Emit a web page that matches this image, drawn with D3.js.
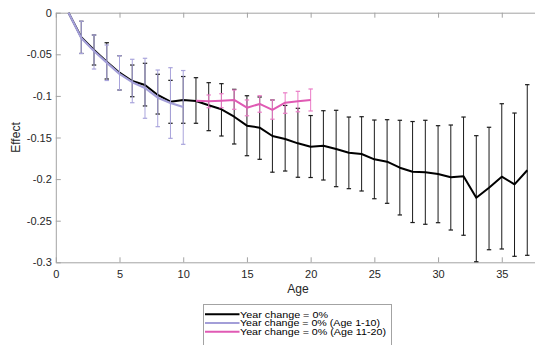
<!DOCTYPE html>
<html>
<head>
<meta charset="utf-8">
<script src="https://cdn.jsdelivr.net/npm/d3@7"></script>
<style>
  html, body { margin: 0; padding: 0; background: #fff; }
  svg { display: block; font-family: "Liberation Sans", Arial, Helvetica, sans-serif; }
</style>
</head>
<body>
<svg id="chart" width="535" height="345"></svg>
<script>
// Effect by age, all ages (1-37)
const baseAges = [1,2,3,4,5,6,7,8,9,10,11,12,13,14,15,16,17,18,19,20,21,22,23,24,25,26,27,28,29,30,31,32,33,34,35,36,37];
const baseEffect = [0,-0.0296,-0.0448,-0.0589,-0.0721,-0.0821,-0.0869,-0.0989,-0.1070,-0.1049,
  -0.1061,-0.1113,-0.1161,-0.1250,-0.1358,-0.1382,-0.1482,-0.1518,-0.1570,-0.1611,
  -0.1599,-0.1638,-0.1683,-0.1698,-0.1762,-0.1791,-0.1863,-0.1911,-0.1918,-0.1939,
  -0.1978,-0.1966,-0.2224,-0.2103,-0.1971,-0.2063,-0.1894];
const baseUpper = [null,-0.0103,-0.0268,-0.0361,-0.0517,-0.0629,-0.0608,-0.0740,-0.0813,-0.0767,
  -0.0781,-0.0841,-0.0853,-0.0921,-0.0998,-0.1013,-0.1049,-0.1115,-0.1149,-0.1236,
  -0.1178,-0.1173,-0.1254,-0.1250,-0.1290,-0.1286,-0.1293,-0.1308,-0.1293,-0.1358,
  -0.1350,-0.1254,-0.1478,-0.1377,-0.1094,-0.1206,-0.0865];
const baseLower = [null,-0.0490,-0.0629,-0.0797,-0.0929,-0.1010,-0.1121,-0.1218,-0.1329,-0.1329,
  -0.1329,-0.1418,-0.1482,-0.1578,-0.1719,-0.1762,-0.1917,-0.1903,-0.1978,-0.1981,
  -0.2011,-0.2091,-0.2115,-0.2143,-0.2236,-0.2291,-0.2431,-0.2522,-0.2543,-0.2524,
  -0.2612,-0.2675,-0.2993,-0.2849,-0.2840,-0.2928,-0.2916];

// Ages 1-10
const youngAges = [1,2,3,4,5,6,7,8,9,10];
const youngEffect = [0,-0.0305,-0.0460,-0.0600,-0.0735,-0.0835,-0.0905,-0.1022,-0.1085,-0.1133];
const youngUpper = [null,-0.0103,-0.0268,-0.0388,-0.0517,-0.0560,-0.0548,-0.0689,-0.0661,-0.0695];
const youngLower = [null,-0.0490,-0.0677,-0.0815,-0.0929,-0.1082,-0.1269,-0.1370,-0.1510,-0.1582];

// Ages 11-20
const olderAges = [11,12,13,14,15,16,17,18,19,20];
const olderEffect = [-0.1058,-0.1065,-0.1058,-0.1049,-0.1142,-0.1097,-0.1169,-0.1082,-0.1065,-0.1049];
const olderUpper = [null,-0.0989,-0.0974,-0.0929,-0.1049,-0.0998,-0.1049,-0.0963,-0.0945,-0.0917];
const olderLower = [null,-0.1142,-0.1142,-0.1161,-0.1239,-0.1196,-0.1280,-0.1209,-0.1191,-0.1181];

const xTicks = [0,5,10,15,20,25,30,35];
const yTicks = [0,-0.05,-0.1,-0.15,-0.2,-0.25,-0.3];
const yTickLabels = ["0","-0.05","-0.1","-0.15","-0.2","-0.25","-0.3"];
const legendLabels = ["Year change = 0%", "Year change = 0% (Age 1-10)", "Year change = 0% (Age 11-20)"];

const colors = { base: "#000000", young: "#a39ed8", older: "#e05ab4" };
const barColors = { base: "#1a1a1a", young: "#a9a4dc", older: "#ea7cc6" };

const svg = d3.select("#chart");
const plotLeft = 55.8, plotRight = 540, plotTop = 12.7, plotBottom = 262.3;
const x = d3.scaleLinear().domain([0, 38]).range([plotLeft, plotRight]);
const y = d3.scaleLinear().domain([-0.3, 0]).range([plotBottom, plotTop]);

const axisColor = "#a3a3a3";
const textColor = "#262626";

// Axes (box with inward ticks)
const gx = svg.append("g").attr("transform", `translate(0,${plotBottom})`)
  .call(d3.axisBottom(x).tickValues(xTicks).tickSizeInner(-5).tickSizeOuter(0).tickPadding(8).tickFormat(d3.format("d")));
const gxTop = svg.append("g").attr("transform", `translate(0,${plotTop})`)
  .call(d3.axisTop(x).tickValues(xTicks).tickSizeInner(-5).tickSizeOuter(0).tickFormat(""));
const gy = svg.append("g").attr("transform", `translate(${plotLeft},0)`)
  .call(d3.axisLeft(y).tickValues(yTicks).tickSizeInner(-5).tickSizeOuter(0).tickPadding(4)
    .tickFormat((d, i) => yTickLabels[i]));
const gyRight = svg.append("g").attr("transform", `translate(${plotRight},0)`)
  .call(d3.axisRight(y).tickValues(yTicks).tickSizeInner(-5).tickSizeOuter(0).tickFormat(""));

[gx, gxTop, gy, gyRight].forEach(g => {
  g.select(".domain").attr("stroke", axisColor);
  g.selectAll(".tick line").attr("stroke", axisColor);
  g.selectAll(".tick text").attr("fill", textColor).attr("font-size", 11)
    .attr("font-family", "'Liberation Sans', Arial, sans-serif");
});

// Axis titles
svg.append("text").attr("x", (plotLeft + plotRight) / 2).attr("y", 293)
  .attr("text-anchor", "middle").attr("font-size", 12.1).attr("fill", textColor).text("Age");
svg.append("text").attr("transform", `translate(19.5,${(plotTop + plotBottom) / 2}) rotate(-90)`)
  .attr("text-anchor", "middle").attr("font-size", 12.1).attr("fill", textColor).text("Effect");

// Series with error bars
const plotArea = svg.append("g");
function drawSeries(ages, effect, upper, lower, lineColor, barColor, lineWidth) {
  const g = plotArea.append("g");
  const rows = ages.map((a, i) => ({ a, v: effect[i], hi: upper[i], lo: lower[i] }));
  const bars = rows.filter(d => d.hi !== null && d.lo !== null);
  const capW = 2.2;
  g.selectAll("line.bar").data(bars).join("line")
    .attr("x1", d => x(d.a)).attr("x2", d => x(d.a))
    .attr("y1", d => y(d.hi)).attr("y2", d => y(d.lo))
    .attr("stroke", barColor).attr("stroke-width", 1);
  g.selectAll("line.capHi").data(bars).join("line")
    .attr("x1", d => x(d.a) - capW).attr("x2", d => x(d.a) + capW)
    .attr("y1", d => y(d.hi)).attr("y2", d => y(d.hi))
    .attr("stroke", barColor).attr("stroke-width", 1.2);
  g.selectAll("line.capLo").data(bars).join("line")
    .attr("x1", d => x(d.a) - capW).attr("x2", d => x(d.a) + capW)
    .attr("y1", d => y(d.lo)).attr("y2", d => y(d.lo))
    .attr("stroke", barColor).attr("stroke-width", 1.2);
  g.append("path").datum(rows)
    .attr("fill", "none").attr("stroke", lineColor).attr("stroke-width", lineWidth)
    .attr("stroke-linejoin", "round")
    .attr("d", d3.line().x(d => x(d.a)).y(d => y(d.v)));
}

drawSeries(baseAges, baseEffect, baseUpper, baseLower, colors.base, barColors.base, 2);
drawSeries(youngAges, youngEffect, youngUpper, youngLower, colors.young, barColors.young, 2.2);
drawSeries(olderAges, olderEffect, olderUpper, olderLower, colors.older, barColors.older, 2);

// Legend
const legend = svg.append("g");
legend.append("rect").attr("x", 203.5).attr("y", 304.5).attr("width", 188).attr("height", 50)
  .attr("fill", "#fff").attr("stroke", axisColor).attr("stroke-width", 1);
const legendColors = [colors.base, colors.young, colors.older];
const legendTextWidths = [88, 140, 146];
legendLabels.forEach((label, i) => {
  const ly = 314.3 + i * 8.7;
  legend.append("line").attr("x1", 205).attr("x2", 239.5).attr("y1", ly).attr("y2", ly)
    .attr("stroke", legendColors[i]).attr("stroke-width", 2);
  legend.append("text").attr("x", 240).attr("y", ly).attr("dy", "0.36em")
    .attr("font-size", 9.2).attr("fill", "#000")
    .attr("textLength", legendTextWidths[i]).attr("lengthAdjust", "spacingAndGlyphs")
    .text(label);
});
</script>
</body>
</html>
